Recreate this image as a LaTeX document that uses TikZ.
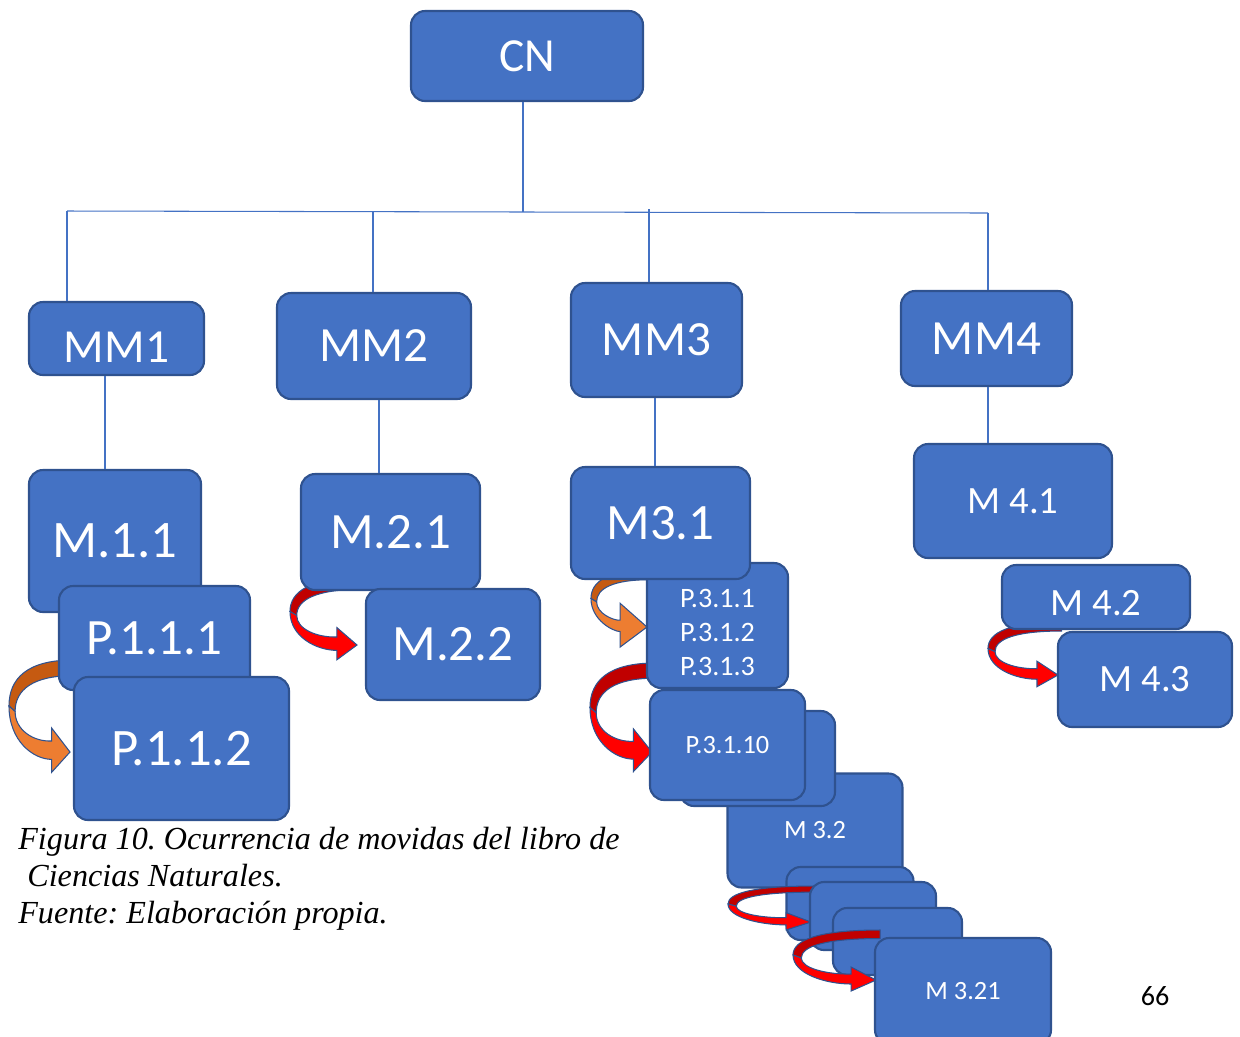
\documentclass[tikz,border=0pt]{standalone}
\usepackage{fontspec}
\setmainfont{Carlito}
\newfontfamily\capfont{Liberation Serif}
\usepackage{tikz}
\usepackage{xcolor}
\usetikzlibrary{positioning,calc}

\definecolor{boxblue}{HTML}{4472C4}
\definecolor{boxedge}{HTML}{2F528F}
\definecolor{linkblue}{HTML}{4472C4}
\definecolor{orgback}{HTML}{C55A11}
\definecolor{orgfront}{HTML}{ED7D31}
\definecolor{redback}{HTML}{C00000}
\definecolor{redfront}{HTML}{FF0000}

\tikzset{sz/.style 2 args={minimum width=#1*0.02cm,minimum height=#2*0.02cm},
  fs/.style={font=\fontsize{#1}{#1}\selectfont}}

% curved 3d arrow: [head size] tip x, tip y, width, height, back colour, front colour
\newcommand{\bentarrow}[7][1]{%
  \begin{scope}[shift={(#2,#3)},xscale=#4,yscale=-#5]
    \filldraw[arrowline,fill=#6] (0.05,1) .. controls (-0.7,1) and (-1,0.8) .. (-1,0.5)
      -- (-0.9,0.44) .. controls (-0.9,0.68) and (-0.6,0.83) .. (0.05,0.83) -- cycle;
    \filldraw[arrowline,fill=#7] (-1,0.5) .. controls (-1,0.12) and (-0.6,-0.08) .. (-0.3*#1,-0.08)
      -- (-0.3*#1,-0.22*#1) -- (0,0) -- (-0.3*#1,0.26*#1) -- (-0.3*#1,0.12)
      .. controls (-0.6,0.11) and (-0.9,0.24) .. (-0.9,0.44) -- cycle;
  \end{scope}}

\begin{document}
\begin{tikzpicture}[x=0.02cm,y=-0.02cm]
  \tikzstyle{box}=[rectangle,rounded corners=8pt,fill=boxblue,draw=boxedge,line width=1.2pt,text=white,inner sep=0pt]
  \tikzstyle{tree}=[draw=linkblue,line width=0.6pt]
  \tikzstyle{arrowline}=[draw=boxedge,line width=0.6pt]
  \useasboundingbox (0,0) rectangle (1240,1036);

  \node (cn) [box,sz={232}{90},fs=27pt] at (527,56) {CN};
  \node (mm1) [box,sz={175}{73},fs=27pt,text height=0.94cm] at (116.5,338.5) {MM1};
  \node (mm2) [box,sz={194}{106},fs=28pt] at (374,346) {MM2};
  \node (mm3) [box,sz={171}{114},fs=28pt] at (656.5,340) {MM3};
  \node (mm4) [box,sz={171}{95},fs=28pt] at (986.5,338.5) {MM4};

  % MM1
  \bentarrow{70}{752}{61}{92}{orgback}{orgfront}
  \node (m11) [box,sz={172}{142},fs=30pt] at (115,541) {M.1.1};
  \node (p111) [box,sz={191}{104},fs=29pt] at (154.5,638) {P.1.1.1};
  \node (p112) [box,sz={215}{143},fs=30pt] at (181.5,748.5) {P.1.1.2};

  % MM2
  \bentarrow{357}{645}{67}{67}{redback}{redfront}
  \node (m21) [box,sz={179}{116},fs=29pt] at (390.5,532) {M.2.1};
  \node (m22) [box,sz={174}{111},fs=29pt] at (453,644.5) {M.2.2};

  % MM3
  \node (m32) [box,sz={175}{114},fs=15pt] at (815,830.5) {M 3.2};
  \bentarrow[1.6]{647}{627}{56}{57}{orgback}{orgfront}
  \bentarrow{652}{752}{62}{89}{redback}{redfront}
  \node (p31) [box,sz={141}{125},align=center,font=\fontsize{16pt}{19.3pt}\selectfont] at (717.5,625.5)
    {\rule{0pt}{18pt}P.3.1.1\\P.3.1.2\\P.3.1.3};
  \node (m31) [box,sz={179}{112},fs=29pt] at (660.5,523) {M3.1};
  \node (s1) [box,sz={155}{95}] at (757.5,758.5) {};
  \node (p3110) [box,sz={155}{110},fs=15pt] at (727.5,745) {P.3.1.10};
  \node (sa) [box,sz={127}{73}] at (850,903.5) {};
  \bentarrow{811}{922}{83}{36}{redback}{redfront}
  \node (sb) [box,sz={126}{68}] at (873,916) {};
  \node (sc) [box,sz={129}{67}] at (897.5,941.5) {};
  \bentarrow{876}{980}{83}{50}{redback}{redfront}
  \node (m321) [box,sz={176}{106},fs=15pt] at (963,991) {M 3.21};

  % MM4
  \bentarrow{1058}{675}{70}{53}{redback}{redfront}
  \node (m41) [box,sz={198}{114},fs=22pt] at (1013,501) {M 4.1};
  \node (m42) [box,sz={188}{64},fs=22pt,text height=0.73cm] at (1096,597) {M 4.2};
  \node (m43) [box,sz={174}{95},fs=22pt] at (1145,679.5) {M 4.3};

  % tree
  \coordinate (b0) at (523,212);
  \coordinate (b1) at (67,211);
  \coordinate (b2) at (373,212);
  \coordinate (b3) at (649,209);
  \coordinate (b4) at (988,213);
  \coordinate (d1) at (105,0);
  \coordinate (d2) at (379,0);
  \coordinate (d3) at (655,0);
  \coordinate (d4) at (988,0);
  \draw[tree] (b1) -- (b4);
  \draw[tree] (cn.south -| b0) -- (b0);
  \draw[tree] (b1) -- (mm1.north -| b1);
  \draw[tree] (b2) -- (mm2.north -| b2);
  \draw[tree] (b3) -- (mm3.north -| b3);
  \draw[tree] (b4) -- (mm4.north -| b4);
  \draw[tree] (mm1.south -| d1) -- (m11.north -| d1);
  \draw[tree] (mm2.south -| d2) -- (m21.north -| d2);
  \draw[tree] (mm3.south -| d3) -- (m31.north -| d3);
  \draw[tree] (mm4.south -| d4) -- (m41.north -| d4);

  \node (cap) [anchor=north west,align=left,inner sep=0pt,font=\capfont\itshape\frenchspacing\fontsize{18.3pt}{21pt}\selectfont] at (18,827)
    {Figura 10. Ocurrencia de movidas del libro de\\\hspace*{0.18cm}Ciencias Naturales.\\Fuente: Elaboración propia.};
  \node (pg) [fs=16pt] at (1155,996) {66};
\end{tikzpicture}
\end{document}
